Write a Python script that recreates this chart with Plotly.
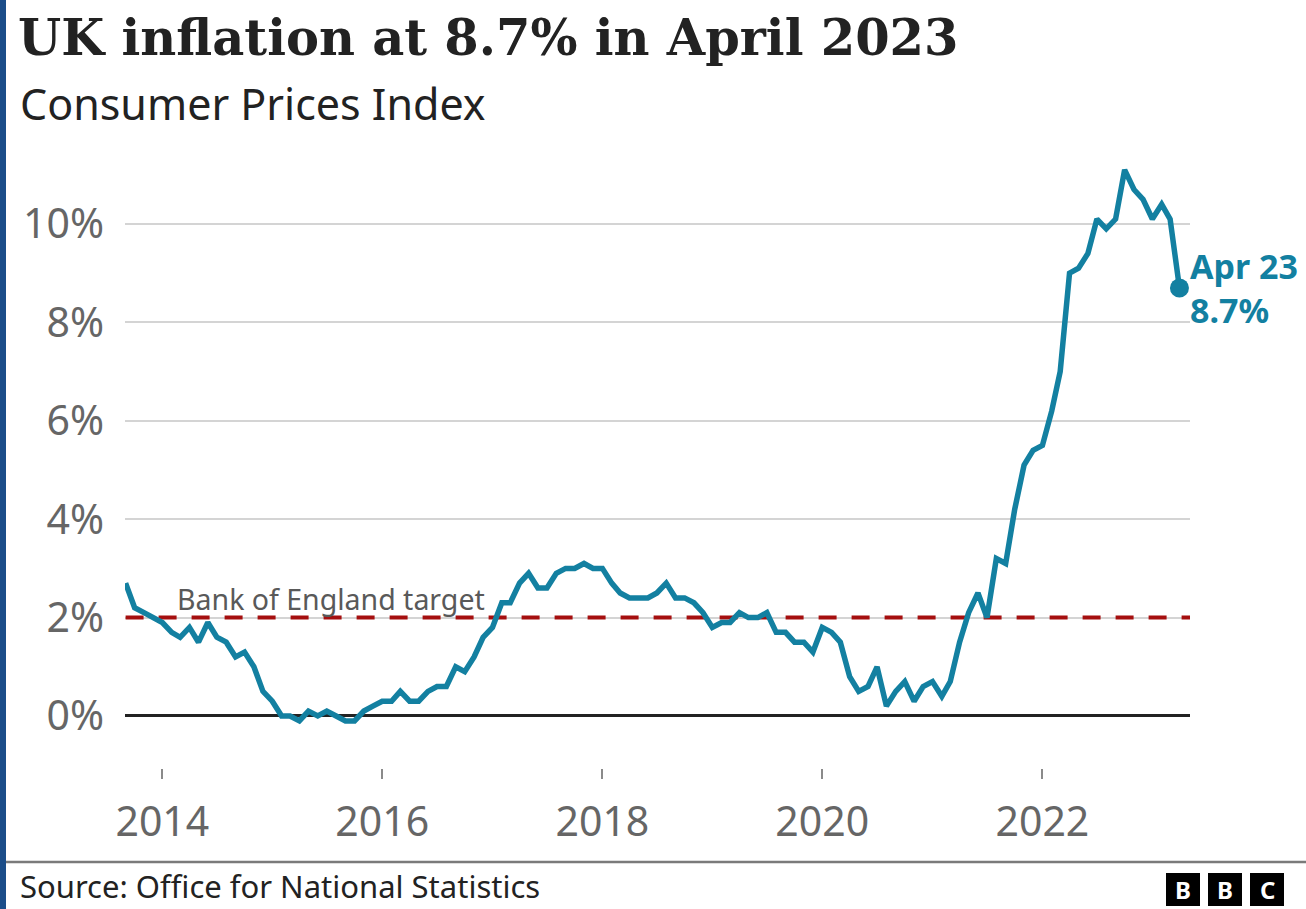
import plotly.graph_objects as go

# UK CPI annual rate, monthly, Sep 2013 - Apr 2023
months = [f"{y}-{m:02d}-01" for y in range(2013, 2024) for m in range(1, 13)]
months = months[months.index("2013-09-01"):months.index("2023-04-01") + 1]

cpi = [
    2.7, 2.2, 2.1, 2.0,                                              # 2013 Sep-Dec
    1.9, 1.7, 1.6, 1.8, 1.5, 1.9, 1.6, 1.5, 1.2, 1.3, 1.0, 0.5,      # 2014
    0.3, 0.0, 0.0, -0.1, 0.1, 0.0, 0.1, 0.0, -0.1, -0.1, 0.1, 0.2,   # 2015
    0.3, 0.3, 0.5, 0.3, 0.3, 0.5, 0.6, 0.6, 1.0, 0.9, 1.2, 1.6,      # 2016
    1.8, 2.3, 2.3, 2.7, 2.9, 2.6, 2.6, 2.9, 3.0, 3.0, 3.1, 3.0,      # 2017
    3.0, 2.7, 2.5, 2.4, 2.4, 2.4, 2.5, 2.7, 2.4, 2.4, 2.3, 2.1,      # 2018
    1.8, 1.9, 1.9, 2.1, 2.0, 2.0, 2.1, 1.7, 1.7, 1.5, 1.5, 1.3,      # 2019
    1.8, 1.7, 1.5, 0.8, 0.5, 0.6, 1.0, 0.2, 0.5, 0.7, 0.3, 0.6,      # 2020
    0.7, 0.4, 0.7, 1.5, 2.1, 2.5, 2.0, 3.2, 3.1, 4.2, 5.1, 5.4,      # 2021
    5.5, 6.2, 7.0, 9.0, 9.1, 9.4, 10.1, 9.9, 10.1, 11.1, 10.7, 10.5, # 2022
    10.1, 10.4, 10.1, 8.7,                                           # 2023 Jan-Apr
]

target = 2.0
y_ticks = [0, 2, 4, 6, 8, 10]
y_tick_text = [f"{v}%" for v in y_ticks]
x_tick_start = "2014-01-01"
last_label = "Apr 23"

TEAL = "#1380A1"
RED = "#a50f0f"
GREY_TXT = "#666666"
DARK = "#222222"
FONT = "Noto Sans"

W, H = 1306, 909
L, R, T, B = 125, 1190, 160, 768


def px(x):
    return (x - L) / (R - L)


def py(y):
    return (B - y) / (B - T)


fig = go.Figure()

# target line
fig.add_trace(go.Scatter(
    x=[months[0], "2023-05-06"], y=[target, target], mode="lines",
    line=dict(color=RED, width=4, dash="18px,15px"),
    hoverinfo="skip", showlegend=False,
))

fig.add_trace(go.Scatter(
    x=months, y=cpi, mode="lines",
    line=dict(color=TEAL, width=5.5),
    showlegend=False,
))

fig.add_trace(go.Scatter(
    x=[months[-1]], y=[cpi[-1]], mode="markers",
    marker=dict(color=TEAL, size=19),
    showlegend=False,
))

annotations = [
    dict(x=px(18), y=py(103), xref="paper", yref="paper", xanchor="left", yanchor="middle",
         text="Consumer Prices Index", showarrow=False,
         font=dict(family=FONT, size=43, color=DARK)),
    dict(x="2014-02-12", y=target, xref="x", yref="y", xanchor="left", yanchor="bottom",
         yshift=-2, text="Bank of England target", showarrow=False,
         font=dict(family=FONT, size=28.5, color="#595959")),
    dict(x=months[-1], y=cpi[-1], xref="x", yref="y", xanchor="left", yanchor="middle",
         xshift=9, text=f"<b>{last_label}</b><br><b>{cpi[-1]}%</b>", showarrow=False, align="left",
         font=dict(family=FONT, size=34, color=TEAL)),
    dict(x=px(18), y=py(886), xref="paper", yref="paper", xanchor="left", yanchor="middle",
         text="Source: Office for National Statistics", showarrow=False,
         font=dict(family=FONT, size=31, color=DARK)),
]

shapes = [
    # left brand strip
    dict(type="rect", xref="paper", yref="paper", x0=px(0), x1=px(6), y0=py(H), y1=py(0),
         fillcolor="#1b4d89", line=dict(width=0), layer="above"),
    # footer rule
    dict(type="line", xref="paper", yref="paper", x0=px(6), x1=px(W), y0=py(862), y1=py(862),
         line=dict(color="#7a7a7a", width=2.5)),
]

# BBC blocks
for i, letter in enumerate("BBC"):
    x0 = 1166 + i * 42
    shapes.append(dict(type="rect", xref="paper", yref="paper", x0=px(x0), x1=px(x0 + 34),
                       y0=py(906), y1=py(873), fillcolor="#000000", line=dict(width=0)))
    annotations.append(dict(x=px(x0 + 17), y=py(889.5), xref="paper", yref="paper",
                            xanchor="center", yanchor="middle", text=f"<b>{letter}</b>",
                            showarrow=False, font=dict(family=FONT, size=24, color="white")))

fig.update_layout(
    width=W, height=H,
    margin=dict(l=L, r=W - R, t=T, b=H - B, pad=0),
    paper_bgcolor="white", plot_bgcolor="white",
    title=dict(text="<b>UK inflation at 8.7% in April 2023</b>", x=18 / W, xref="container",
               y=1 - 38 / H, yref="container", xanchor="left", yanchor="middle",
               font=dict(family="DejaVu Serif", size=49.5, color=DARK)),
    annotations=annotations,
    shapes=shapes,
    xaxis=dict(
        type="date", range=["2013-08-30", "2023-05-06"],
        tick0=x_tick_start, dtick="M24", tickformat="%Y",
        ticks="outside", ticklen=10, tickwidth=2, tickcolor="#8a8a8a",
        ticklabelstandoff=8,
        showgrid=False, zeroline=False, showline=False,
        tickfont=dict(family=FONT, size=41, color=GREY_TXT),
        fixedrange=True,
    ),
    yaxis=dict(
        range=[-1.057, 11.30],
        tickvals=y_ticks, ticktext=y_tick_text,
        showgrid=True, gridcolor="#d4d4d4", gridwidth=1.5,
        zeroline=True, zerolinecolor="#222222", zerolinewidth=3,
        ticks="", ticklabelstandoff=20,
        tickfont=dict(family=FONT, size=41, color=GREY_TXT),
        fixedrange=True,
    ),
    showlegend=False,
)

fig.write_html("out.html")
